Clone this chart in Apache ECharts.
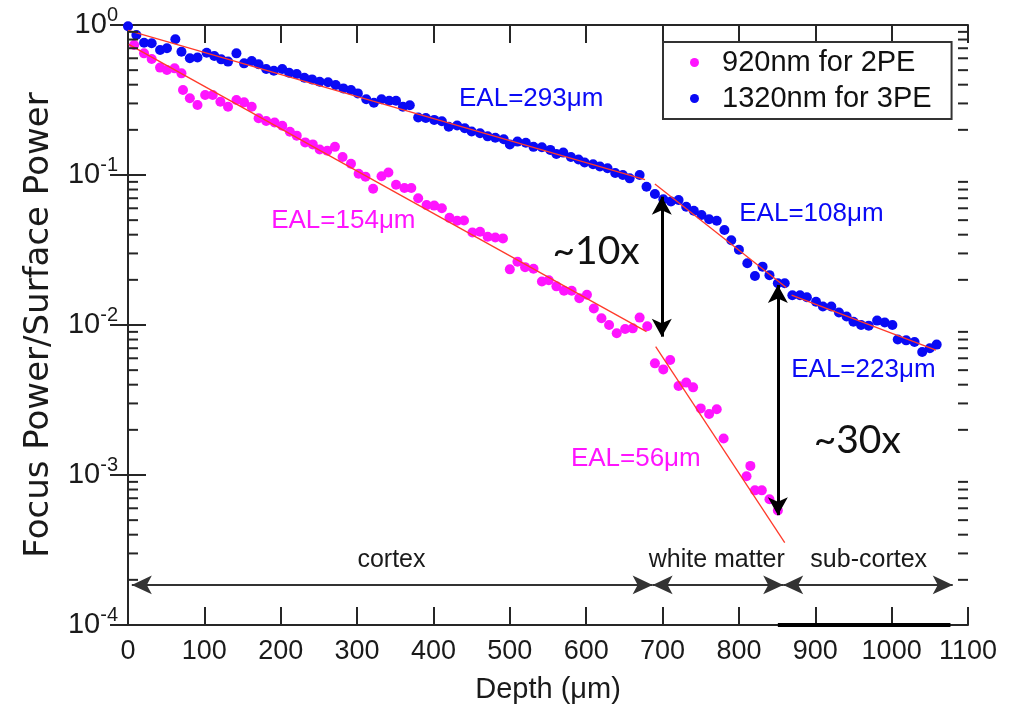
<!DOCTYPE html>
<html>
<head>
<meta charset="utf-8">
<script src="https://cdn.jsdelivr.net/npm/echarts@6/dist/echarts.min.js"></script>
<style>
html, body { margin: 0; padding: 0; background: #fff; }
#chart { width: 1017px; height: 709px; }
</style>
</head>
<body>
<div id="chart"></div>
<script>
// depth (um), focus power / surface power
const blue1320 = [
    [0, 0.98], [11, 0.857], [21, 0.762], [31, 0.755], [42, 0.681], [51, 0.699], [62, 0.803], [70, 0.664],
    [81, 0.60], [91, 0.608], [103, 0.654], [113, 0.621], [122, 0.59], [131, 0.57], [142, 0.647], [152, 0.555],
    [162, 0.575], [171, 0.547], [181, 0.509], [191, 0.496], [202, 0.509], [211, 0.481], [221, 0.471], [231, 0.445],
    [241, 0.434], [251, 0.419], [262, 0.415], [272, 0.398], [282, 0.378], [292, 0.369], [301, 0.35], [312, 0.32],
    [322, 0.303], [332, 0.32], [342, 0.313], [351, 0.313], [360, 0.285], [369, 0.292], [380, 0.242], [390, 0.24],
    [401, 0.233], [411, 0.228], [420, 0.21], [431, 0.214], [441, 0.205], [450, 0.195], [461, 0.19], [471, 0.181],
    [481, 0.177], [492, 0.173], [500, 0.16], [510, 0.167], [521, 0.164], [531, 0.154], [542, 0.153], [553, 0.147],
    [561, 0.138], [570, 0.141], [580, 0.132], [590, 0.127], [598, 0.121], [609, 0.118], [618, 0.114], [628, 0.111],
    [638, 0.103], [648, 0.1], [657, 0.095], [670, 0.1], [679, 0.0836], [690, 0.0747], [701, 0.0689], [711, 0.0665],
    [721, 0.0681], [731, 0.0615], [741, 0.0578], [751, 0.0541], [761, 0.0507], [771, 0.0496], [781, 0.043], [790, 0.0367],
    [800, 0.0318], [811, 0.0258], [821, 0.0212], [831, 0.0245], [840, 0.0215], [851, 0.019], [860, 0.019], [870, 0.0158],
    [880, 0.0158], [889, 0.0153], [901, 0.0143], [910, 0.0133], [921, 0.0133], [931, 0.0121], [941, 0.0114], [950, 0.0105],
    [960, 0.0100], [970, 0.0099], [981, 0.0107], [991, 0.0104], [1001, 0.0100], [1008, 0.0080], [1019, 0.0079], [1030, 0.0077],
    [1040, 0.0066], [1050, 0.0070], [1059, 0.0074]
];

const magenta920 = [
    [8, 0.735], [21, 0.647], [31, 0.593], [42, 0.52], [51, 0.501], [61, 0.514], [70, 0.476], [72, 0.369],
    [81, 0.325], [91, 0.293], [101, 0.341], [111, 0.341], [121, 0.308], [131, 0.285], [142, 0.316], [152, 0.305],
    [162, 0.285], [171, 0.239], [181, 0.229], [192, 0.224], [202, 0.213], [212, 0.194], [221, 0.183], [232, 0.165],
    [242, 0.16], [251, 0.148], [261, 0.145], [271, 0.154], [281, 0.132], [292, 0.119], [302, 0.102], [311, 0.0975],
    [321, 0.081], [332, 0.098], [341, 0.104], [351, 0.086], [362, 0.082], [371, 0.082], [380, 0.07], [391, 0.063],
    [401, 0.0625], [411, 0.06], [421, 0.0518], [431, 0.0495], [440, 0.0498], [451, 0.0414], [461, 0.0419], [471, 0.0388],
    [481, 0.0383], [491, 0.0378], [500, 0.0235], [510, 0.0264], [520, 0.0243], [531, 0.0237], [542, 0.0195], [551, 0.0199],
    [561, 0.0181], [571, 0.0169], [581, 0.0169], [591, 0.0151], [601, 0.0159], [610, 0.0129], [620, 0.0111], [630, 0.01],
    [640, 0.0088], [651, 0.0094], [661, 0.0095], [670, 0.0112], [680, 0.0098],
    [690, 0.00555], [701, 0.00506], [710, 0.00585], [721, 0.00392], [731, 0.00413], [740, 0.00384], [750, 0.00278],
    [761, 0.00255], [771, 0.00274], [780, 0.00175], [810, 0.00098], [815, 0.00115], [821, 0.00079], [830, 0.00079],
    [840, 0.00069], [851, 0.00058]
];

// exponential fits, start/end of each segment
const fitBlue = [
    [[0, 0.92], [677, 0.093]],
    [[690, 0.087], [862, 0.0178]],
    [[869, 0.0158], [1058, 0.0068]]
];
const fitMagenta = [
    [[1, 0.743], [679, 0.00903]],
    [[691, 0.00717], [860, 0.000354]]
];

// ~10x and ~30x arrows: depth, top, bottom
const ratioArrows = [[699, 0.0717, 0.00836], [851, 0.0185, 0.00054]];

// region brackets near the bottom
const regionSpans = [[5, 687], [687, 858], [858, 1080]];
const regionLevel = 1.85e-4;
const bottomBar = [851, 1077];

const minorTicks = [
    2e-4, 3e-4, 4e-4, 5e-4, 6e-4, 7e-4, 8e-4, 9e-4,
    2e-3, 3e-3, 4e-3, 5e-3, 6e-3, 7e-3, 8e-3, 9e-3,
    2e-2, 3e-2, 4e-2, 5e-2, 6e-2, 7e-2, 8e-2, 9e-2,
    2e-1, 3e-1, 4e-1, 5e-1, 6e-1, 7e-1, 8e-1, 9e-1
];

const notes = [
    { text: "EAL=293μm", at: [528, 0.321], kind: "blue" },
    { text: "EAL=154μm", at: [282, 0.0493], kind: "magenta" },
    { text: "EAL=108μm", at: [895, 0.055], kind: "blue" },
    { text: "EAL=223μm", at: [963, 0.00501], kind: "blue" },
    { text: "EAL=56μm", at: [665, 0.00128], kind: "magenta" },
    { text: "~10x", at: [613, 0.0311], kind: "big" },
    { text: "~30x", at: [955, 0.00171], kind: "big" },
    { text: "cortex", at: [345, 2.71e-4], kind: "region" },
    { text: "white matter", at: [771, 2.71e-4], kind: "region" },
    { text: "sub-cortex", at: [970, 2.71e-4], kind: "region" }
];

const AXIS = "#262626";
const BLUE = "#0a0af5";
const MAGENTA = "#ff14ff";
const RED = "#ff3a2a";
const ARIAL = "'Liberation Sans', Arial, sans-serif";

const noteStyles = {
    blue: { color: BLUE, fontSize: 26, fontFamily: ARIAL },
    magenta: { color: MAGENTA, fontSize: 26, fontFamily: ARIAL },
    big: { color: "#111", fontSize: 39, fontFamily: "Lato, 'Open Sans', sans-serif" },
    region: { color: "#1a1a1a", fontSize: 25, fontFamily: ARIAL }
};

const chart = echarts.init(document.getElementById("chart"));

const axisLineStyle = { color: AXIS, width: 2 };

function fitSeries(segments) {
    return segments.map(seg => ({
        type: "line",
        data: seg,
        symbol: "none",
        silent: true,
        z: 4,
        lineStyle: { color: RED, width: 1.3 }
    }));
}

chart.setOption({
    animation: false,
    backgroundColor: "#fff",
    grid: { left: 128, right: 49, top: 25, bottom: 84 },
    legend: {
        data: ["920nm for 2PE", "1320nm for 3PE"],
        orient: "vertical",
        left: 663,
        top: 42,
        icon: "circle",
        itemWidth: 45,
        itemHeight: 9,
        itemGap: 7,
        padding: [6, 20, 6, 27],
        borderColor: "#333",
        borderWidth: 2,
        backgroundColor: "#fff",
        textStyle: { fontSize: 29, fontFamily: ARIAL, color: "#111" }
    },
    xAxis: [
        {
            type: "value",
            min: 0,
            max: 1100,
            interval: 100,
            position: "bottom",
            name: "Depth (μm)",
            nameLocation: "middle",
            nameGap: 50,
            nameTextStyle: { fontSize: 29, fontFamily: ARIAL, color: "#1a1a1a" },
            axisLine: { lineStyle: axisLineStyle },
            axisTick: { inside: true, length: 18, lineStyle: axisLineStyle },
            axisLabel: {
                fontSize: 27,
                fontFamily: ARIAL,
                color: "#1a1a1a",
                margin: 13,
                formatter: v => String(v)
            },
            splitLine: { show: false }
        },
        {
            type: "value",
            min: 0,
            max: 1100,
            interval: 100,
            position: "top",
            axisLine: { lineStyle: axisLineStyle },
            axisTick: { inside: true, length: 18, lineStyle: axisLineStyle },
            axisLabel: { show: false },
            splitLine: { show: false }
        }
    ],
    yAxis: [
        {
            type: "log",
            logBase: 10,
            min: 1e-4,
            max: 1,
            position: "left",
            name: "Focus Power/Surface Power",
            nameLocation: "middle",
            nameGap: 72,
            nameTextStyle: { fontSize: 34, fontFamily: "'DejaVu Sans', sans-serif", color: "#1a1a1a" },
            axisLine: { lineStyle: axisLineStyle },
            axisTick: { inside: true, length: 18, lineStyle: axisLineStyle },
            axisLabel: {
                margin: 10,
                fontSize: 29,
                fontFamily: ARIAL,
                color: "#1a1a1a",
                formatter: v => "{b|10}{s|" + Math.round(Math.log10(v)) + "}",
                rich: {
                    b: { fontSize: 29, fontFamily: ARIAL, color: "#1a1a1a" },
                    s: { fontSize: 20, fontFamily: ARIAL, color: "#1a1a1a", padding: [0, 0, 20, 0] }
                }
            },
            splitLine: { show: false }
        },
        {
            type: "log",
            logBase: 10,
            min: 1e-4,
            max: 1,
            position: "right",
            axisLine: { lineStyle: axisLineStyle },
            axisTick: { inside: true, length: 18, lineStyle: axisLineStyle },
            axisLabel: { show: false },
            splitLine: { show: false }
        }
    ],
    series: [
        {
            type: "custom",
            silent: true,
            data: minorTicks.map(v => [0, v]),
            encode: { x: 0, y: 1 },
            clip: false,
            z: 5,
            renderItem(params, api) {
                const v = api.value(1);
                const l = api.coord([0, v]);
                const r = api.coord([1100, v]);
                const style = { stroke: AXIS, lineWidth: 2 };
                return {
                    type: "group",
                    children: [
                        { type: "line", shape: { x1: l[0], y1: l[1], x2: l[0] + 10, y2: l[1] }, style },
                        { type: "line", shape: { x1: r[0] - 10, y1: r[1], x2: r[0], y2: r[1] }, style }
                    ]
                };
            }
        },
        {
            name: "920nm for 2PE",
            type: "scatter",
            data: magenta920,
            symbolSize: 10,
            itemStyle: { color: MAGENTA, opacity: 1 },
            z: 2,
            markLine: {
                silent: true,
                animation: false,
                symbol: ["arrow", "arrow"],
                symbolSize: [15, 18],
                label: { show: false },
                lineStyle: { color: "#000", width: 3, type: "solid" },
                data: ratioArrows.map(a => [{ coord: [a[0], a[1]] }, { coord: [a[0], a[2]] }])
            }
        },
        {
            name: "1320nm for 3PE",
            type: "scatter",
            data: blue1320,
            symbolSize: 10,
            itemStyle: { color: BLUE, opacity: 1 },
            z: 2,
            markLine: {
                silent: true,
                animation: false,
                label: { show: false },
                symbol: ["arrow", "arrow"],
                symbolSize: [14, 20],
                lineStyle: { color: "#333", width: 2, type: "solid" },
                data: regionSpans.map(s => [{ coord: [s[0], regionLevel] }, { coord: [s[1], regionLevel] }]).concat([
                    [
                        { coord: [bottomBar[0], 1e-4], symbol: "none", lineStyle: { color: "#000", width: 4 } },
                        { coord: [bottomBar[1], 1e-4], symbol: "none" }
                    ]
                ])
            },
            markPoint: {
                silent: true,
                symbol: "circle",
                symbolSize: 0,
                data: notes.map(n => ({
                    coord: n.at,
                    label: Object.assign({ show: true, position: "inside", formatter: n.text }, noteStyles[n.kind])
                }))
            }
        },
        ...fitSeries(fitBlue),
        ...fitSeries(fitMagenta)
    ]
});
</script>
</body>
</html>
